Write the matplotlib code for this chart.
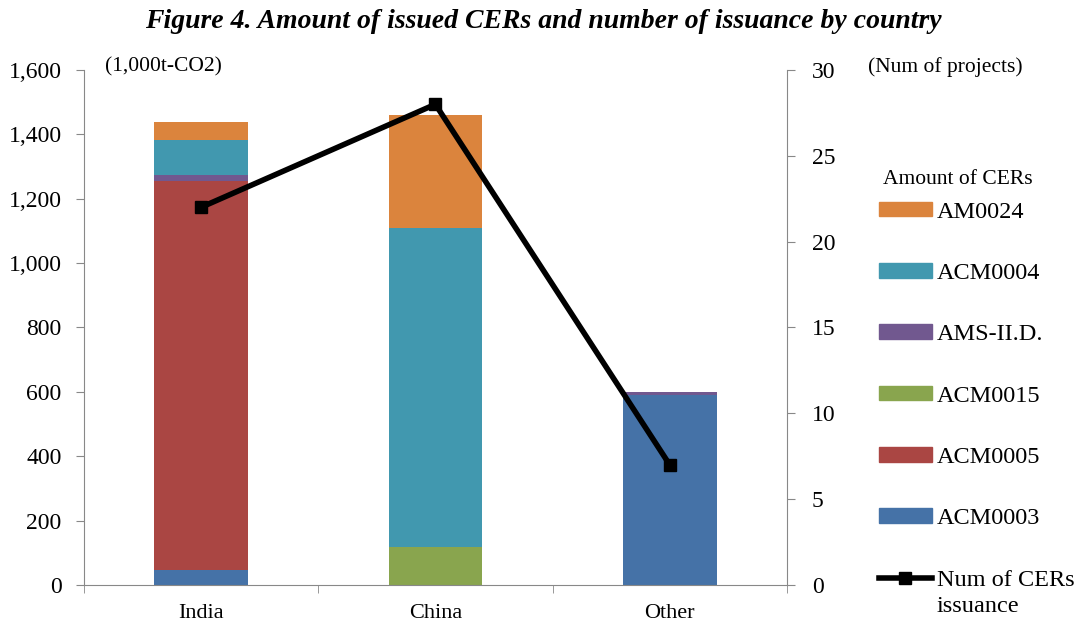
import numpy as np
import matplotlib.pyplot as plt
from matplotlib.lines import Line2D
from matplotlib.patches import Patch

plt.rcParams['font.family'] = ['Liberation Serif', 'DejaVu Serif']

countries = ['India', 'China', 'Other']
# stacked amounts of CERs (1,000t-CO2), bottom to top
acm0003 = [47, 0, 590]
acm0005 = [1207, 0, 0]
acm0015 = [0, 118, 0]
ams_iid = [19, 0, 10]
acm0004 = [109, 991, 0]
am0024 = [56, 350, 0]
num_issuance = [22, 28, 7]

series = [
    ('ACM0003', acm0003, '#4572A7'),
    ('ACM0005', acm0005, '#AA4643'),
    ('ACM0015', acm0015, '#89A54E'),
    ('AMS-II.D.', ams_iid, '#71588F'),
    ('ACM0004', acm0004, '#4198AF'),
    ('AM0024', am0024, '#DB843D'),
]

fig = plt.figure(figsize=(10.75, 6.22), dpi=100)
ax = fig.add_axes([0.078, 0.0595, 0.654, 0.828])
x = np.arange(len(countries))

bottom = np.zeros(len(countries))
for name, vals, col in series:
    ax.bar(x, vals, width=0.4, bottom=bottom, color=col, label=name)
    bottom += np.array(vals)

ax.set_xlim(-0.5, 2.5)
ax.set_ylim(0, 1600)
ax.set_yticks(np.arange(0, 1601, 200))
ax.set_yticklabels([f'{v:,}' for v in range(0, 1601, 200)])
ax.set_xticks(x)
ax.set_xticklabels(countries)
ax.set_xticks([-0.5, 0.5, 1.5, 2.5], minor=True)
ax.tick_params(axis='x', which='major', length=0, labelsize=16, pad=14)
ax.tick_params(axis='x', which='minor', length=6, color='#888888')
ax.tick_params(axis='y', labelsize=17, length=6, color='#888888', pad=10)
for s in ['top', 'right']:
    ax.spines[s].set_visible(False)
for s in ['left', 'bottom']:
    ax.spines[s].set_color('#888888')

ax2 = ax.twinx()
ax2.plot(x, num_issuance, color='black', lw=4, marker='s', ms=9)
ax2.set_ylim(0, 30)
ax2.set_yticks(np.arange(0, 31, 5))
ax2.tick_params(axis='y', labelsize=17, length=6, color='#888888', pad=12)
for s in ['top', 'left', 'bottom']:
    ax2.spines[s].set_visible(False)
ax2.spines['right'].set_color('#888888')

fig.text(0.098, 0.893, '(1,000t-CO2)', fontsize=15.5, va='center')
fig.text(0.807, 0.893, '(Num of projects)', fontsize=15.5, va='center')
fig.suptitle('Figure 4. Amount of issued CERs and number of issuance by country',
             fontsize=20, fontweight='bold', style='italic', x=0.505, y=0.985)
fig.text(0.891, 0.712, 'Amount of CERs', fontsize=15.5, ha='center', va='center')

handles = [Patch(color=c) for _, _, c in series[::-1]]
labels = [n for n, _, _ in series[::-1]]
handles.append(Line2D([], [], color='black', lw=4, marker='s', ms=9))
labels.append('Num of CERs')
leg = fig.legend(handles, labels, loc='upper left', bbox_to_anchor=(0.797, 0.711),
                 frameon=False, fontsize=17.5, labelspacing=1.66, handlelength=2.2,
                 handleheight=0.55, handletextpad=0.2)

# second line of the last legend label, set just under the first
fig.canvas.draw()
last = leg.get_texts()[-1].get_window_extent()
inv = fig.transFigure.inverted()
x0, y0 = inv.transform((last.x0, last.y0))
fig.text(x0, y0 - 0.009, 'issuance', fontsize=17.5, va='top', ha='left')

fig.savefig('out.png', dpi=100)
